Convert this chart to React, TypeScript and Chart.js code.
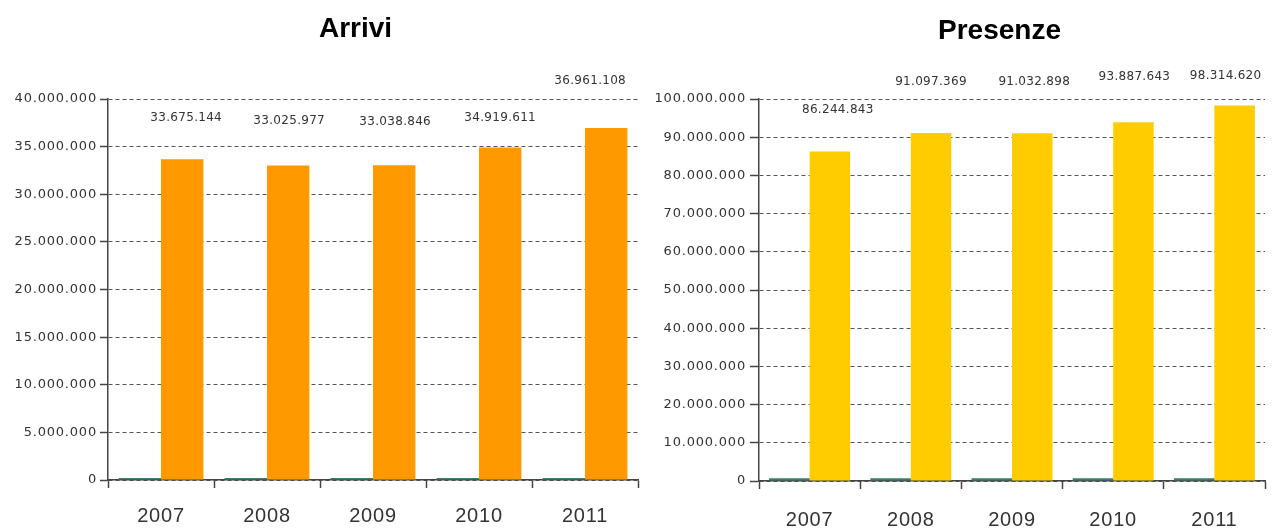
import React, { useEffect, useRef } from 'react';
import { Chart, registerables } from 'chart.js';

Chart.register(...registerables);

// ---- Data ----
const years = ['2007', '2008', '2009', '2010', '2011'];
const arriviValues = [33675144, 33025977, 33038846, 34919611, 36961108];
const arriviMinor = [220000, 220000, 220000, 220000, 220000];
const presenzeValues = [86244843, 91097369, 91032898, 93887643, 98314620];
const presenzeMinor = [750000, 750000, 750000, 750000, 750000];
const arriviMax = 40000000;
const arriviStep = 5000000;
const presenzeMax = 100000000;
const presenzeStep = 10000000;

// ---- Label placement tweaks (px, style only) ----
const arriviLabelLift = [41, 45, 43, 30, 47];
const arriviLabelShift = [4, 1, 1, 0, -16];
const presenzeLabelLift = [42, 51, 51, 45, 30];
const presenzeLabelShift = [8, 0, 2, 1, -9];

function fmt(n: number): string {
  return String(Math.round(n)).replace(/\B(?=(\d{3})+(?!\d))/g, '.');
}

type PanelCfg = {
  title: string;
  titleX: number;
  titleBaseline: number;
  values: number[];
  minor: number[];
  color: string;
  max: number;
  step: number;
  yWidth: number;
  xHeight: number;
  padRight: number;
  padTop: number;
  tickLen: number;
  tickPad: number;
  xPad: number;
  lift: number[];
  shift: number[];
};

function BarPanel({ cfg, left, width }: { cfg: PanelCfg; left: number; width: number }) {
  const ref = useRef<HTMLCanvasElement>(null);
  useEffect(() => {
    const canvas = ref.current;
    if (!canvas) return;
    const decor = {
      id: 'decor',
      beforeDraw(chart: any) {
        chart.ctx.letterSpacing = '0.8px';
      },
      afterDraw(chart: any) {
        const c = chart.ctx as CanvasRenderingContext2D;
        c.save();
        (c as any).letterSpacing = '0px';
        c.font = 'bold 28px "Liberation Sans", Arial, sans-serif';
        c.fillStyle = '#000';
        c.textAlign = 'center';
        c.textBaseline = 'alphabetic';
        c.fillText(cfg.title, cfg.titleX, cfg.titleBaseline);
        const meta = chart.getDatasetMeta(1);
        c.font = '12px "DejaVu Sans", sans-serif';
        (c as any).letterSpacing = '0.3px';
        c.fillStyle = '#333';
        c.textBaseline = 'middle';
        meta.data.forEach((el: any, i: number) => {
          c.fillText(fmt(cfg.values[i]), el.x + cfg.shift[i], el.y - cfg.lift[i]);
        });
        c.restore();
      },
    };
    const chart = new Chart(canvas, {
      type: 'bar',
      data: {
        labels: years,
        datasets: [
          { data: cfg.minor, backgroundColor: '#3a7d6a', categoryPercentage: 0.8, barPercentage: 1 },
          { data: cfg.values, backgroundColor: cfg.color, categoryPercentage: 0.8, barPercentage: 1 },
        ],
      },
      options: {
        responsive: false,
        animation: false,
        layout: { padding: { left: 0, right: cfg.padRight, top: cfg.padTop, bottom: 0 } },
        plugins: { legend: { display: false }, tooltip: { enabled: false }, title: { display: false } },
        scales: {
          x: {
            grid: { display: true, drawOnChartArea: false, drawTicks: true, tickLength: 8, tickColor: '#444', tickWidth: 1.5 },
            border: { display: true, color: '#444', width: 1.5 },
            ticks: {
              color: '#333',
              font: { family: '"Liberation Sans", Arial, sans-serif', size: 20 },
              padding: cfg.xPad,
              maxRotation: 0,
              autoSkip: false,
            },
            afterFit: (s: any) => {
              s.height = cfg.xHeight;
            },
          },
          y: {
            min: 0,
            max: cfg.max,
            ticks: {
              stepSize: cfg.step,
              color: '#333',
              font: { family: '"DejaVu Sans", sans-serif', size: 13 },
              padding: cfg.tickPad,
              callback: (v: any) => fmt(Number(v)),
            },
            grid: { color: '#555', lineWidth: 1, tickLength: cfg.tickLen, tickColor: '#444', tickWidth: 1.5 },
            border: { display: true, color: '#444', width: 1.5, dash: [4, 3] },
            afterFit: (s: any) => {
              s.width = cfg.yWidth;
            },
          },
        },
      } as any,
      plugins: [decor],
    });
    return () => chart.destroy();
  }, []);
  return (
    <canvas
      ref={ref}
      width={width}
      height={528}
      style={{ position: 'absolute', left, top: 0, width, height: 528 }}
    />
  );
}

const arriviCfg: PanelCfg = {
  title: 'Arrivi',
  titleX: 355.5,
  titleBaseline: 37,
  values: arriviValues,
  minor: arriviMinor,
  color: '#FF9900',
  max: arriviMax,
  step: arriviStep,
  yWidth: 108,
  xHeight: 48,
  padRight: 2,
  padTop: 99,
  tickLen: 8,
  tickPad: 3,
  xPad: 16,
  lift: arriviLabelLift,
  shift: arriviLabelShift,
};

const presenzeCfg: PanelCfg = {
  title: 'Presenze',
  titleX: 359.5,
  titleBaseline: 39,
  values: presenzeValues,
  minor: presenzeMinor,
  color: '#FFCC00',
  max: presenzeMax,
  step: presenzeStep,
  yWidth: 119,
  xHeight: 47,
  padRight: 8,
  padTop: 99,
  tickLen: 9,
  tickPad: 4,
  xPad: 19,
  lift: presenzeLabelLift,
  shift: presenzeLabelShift,
};

export default function App() {
  return (
    <div style={{ position: 'fixed', left: 0, top: 0, width: 1273, height: 528, background: '#fff' }}>
      <BarPanel cfg={arriviCfg} left={0} width={640} />
      <BarPanel cfg={presenzeCfg} left={640} width={633} />
    </div>
  );
}
